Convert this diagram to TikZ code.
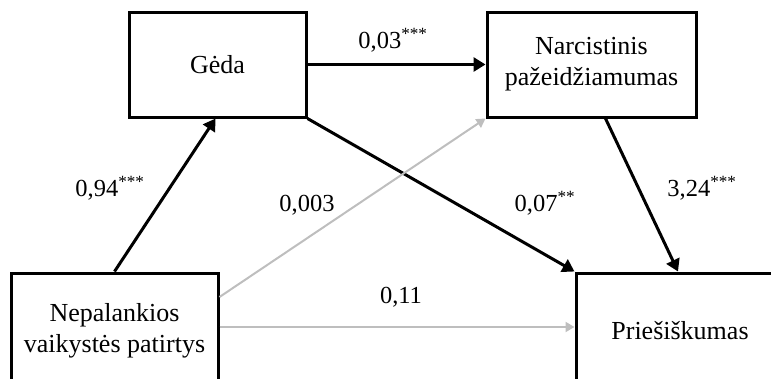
\documentclass[tikz,border=0pt]{standalone}
\usepackage{fontspec}
\setmainfont{Liberation Serif}
\usetikzlibrary{arrows.meta}
\definecolor{lightline}{RGB}{190,190,190}
\tikzset{
  box/.style={draw=black, line width=3pt, fill=white, align=center,
    font=\fontsize{26}{31}\selectfont, inner sep=0pt},
  coef/.style={font=\fontsize{24.5}{29}\selectfont, inner sep=0pt},
  strong/.style={draw=black, line width=3pt, -{Triangle[length=12pt,width=14pt]}},
  weak/.style={draw=lightline, line width=2pt, -{Triangle[length=9pt,width=10pt]}}
}
\begin{document}
\begin{tikzpicture}[x=1pt,y=-1pt]
\useasboundingbox (0,0) rectangle (771,378);
\clip (0,0) rectangle (771,378);
\node[box, minimum width=177pt, minimum height=105pt] (geda) at (217.5,64.5) {Gėda};
\node[box, minimum width=209pt, minimum height=105pt] (narc) at (591.5,64.5) {Narcistinis\\pažeidžiamumas};
\node[box, minimum width=207pt, minimum height=116pt] (nep) at (114.5,331) {Nepalankios\\vaikystės patirtys};
\node[box, minimum width=208pt, minimum height=116pt] (pries) at (680,331) {Priešiškumas};

\draw[strong] (nep.north) -- ([xshift=-2pt]geda.south);
\draw[strong] (geda.east) -- (narc.west);
\draw[strong] (geda.south east) -- (pries.north west);
\draw[strong] ([xshift=14pt]narc.south) -- ([xshift=-2pt]pries.north);
\draw[weak] ([yshift=34pt]nep.east) -- (narc.south west);
\draw[weak] ([yshift=4pt]nep.east) -- ([yshift=4pt]nep.east -| pries.west);

\node[coef] (c1) at (393,40) {0,03\textsuperscript{***}};
\node[coef] (c2) at (110,188) {0,94\textsuperscript{***}};
\node[coef] (c3) at (307,205) {0,003};
\node[coef] (c4) at (545,203) {0,07\textsuperscript{**}};
\node[coef] (c5) at (702,188) {3,24\textsuperscript{***}};
\node[coef] (c6) at (401,297) {0,11};
\end{tikzpicture}
\end{document}
